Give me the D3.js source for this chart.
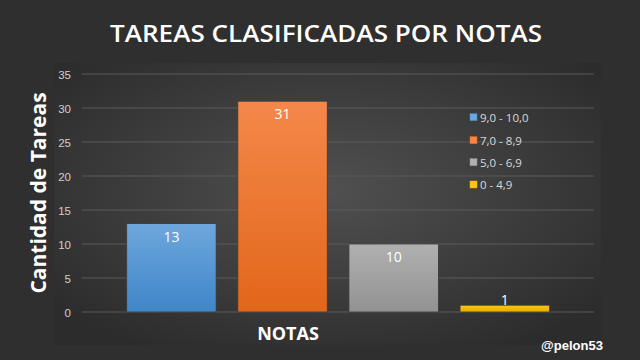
<!DOCTYPE html>
<html><head><meta charset="utf-8">
<script src="https://cdn.jsdelivr.net/npm/d3@7"></script>
<style>html,body{margin:0;padding:0;background:#2f2f2f;overflow:hidden}</style>
</head><body>
<svg id="c" width="640" height="360"></svg>
<script>
const title = "TAREAS CLASIFICADAS POR NOTAS";
const series = ["9,0 - 10,0", "7,0 - 8,9", "5,0 - 6,9", "0 - 4,9"];
const values = [13, 31, 10, 1];
const colorsTop = ["#6ea7dd", "#f4884a", "#b0b0b0", "#ffc61a"];
const colorsBot = ["#3f86c8", "#e2661a", "#929292", "#e8aa00"];
const yTicks = [0, 5, 10, 15, 20, 25, 30, 35];
const yTitle = "Cantidad de Tareas";
const xTitle = "NOTAS";
const watermark = "@pelon53";

const svg = d3.select("#c");
const defs = svg.append("defs");
const rg = defs.append("radialGradient").attr("id","panel").attr("cx","50%").attr("cy","45%").attr("r","65%");
rg.append("stop").attr("offset","0%").attr("stop-color","#505050");
rg.append("stop").attr("offset","100%").attr("stop-color","#2c2c2c");
series.forEach((s,i)=>{
  const lg = defs.append("linearGradient").attr("id","g"+i).attr("x1",0).attr("y1",0).attr("x2",0).attr("y2",1);
  lg.append("stop").attr("offset","0%").attr("stop-color",colorsTop[i]);
  lg.append("stop").attr("offset","100%").attr("stop-color",colorsBot[i]);
});

svg.append("rect").attr("width",640).attr("height",360).attr("fill","#2f2f2f");
svg.append("rect").attr("x",54).attr("y",63).attr("width",547).attr("height",282).attr("fill","url(#panel)");

svg.append("text").attr("x",326).attr("y",42).attr("text-anchor","middle")
  .attr("fill","#ffffff").attr("font-family","'Open Sans', sans-serif").attr("font-weight",600)
  .attr("font-size",24).attr("textLength",432).attr("lengthAdjust","spacingAndGlyphs").text(title);

const plotL = 82, plotR = 594;
const y = d3.scaleLinear().domain([0,35]).range([312, 74]);
const x = d3.scaleBand().domain(series).range([126.7, 549.5]).paddingInner(0.195).paddingOuter(0);

svg.append("g").selectAll("line").data(yTicks).join("line")
  .attr("x1",plotL).attr("x2",plotR).attr("y1",d=>y(d)).attr("y2",d=>y(d))
  .attr("stroke","#5a5a5a").attr("stroke-width",1);

const yAxis = d3.axisLeft(y).tickValues(yTicks).tickSize(0).tickPadding(0);
const ga = svg.append("g").attr("transform","translate(71,0)").call(yAxis);
ga.select(".domain").remove();
ga.selectAll("text").attr("fill","#d0d0d0").attr("font-family","'Liberation Sans', Arial, sans-serif").attr("font-size",11.5).attr("text-anchor","end").attr("dy","0.35em");

svg.append("g").selectAll("rect").data(values).join("rect")
  .attr("x",(d,i)=>x(series[i])).attr("width",x.bandwidth())
  .attr("y",d=>y(d)).attr("height",d=>y(0)-y(d))
  .attr("fill",(d,i)=>`url(#g${i})`).attr("stroke","#3a3a3a").attr("stroke-width",0.8);

svg.append("g").selectAll("text").data(values).join("text")
  .attr("x",(d,i)=>x(series[i])+x.bandwidth()/2)
  .attr("y",d=>(y(0)-y(d) > 20 ? y(d)+13 : y(d)-5))
  .attr("dy","0.35em").attr("text-anchor","middle").attr("fill","#ffffff")
  .attr("font-family","'Open Sans', sans-serif").attr("font-size",14).text(d=>d);

const lg = svg.append("g").selectAll("g").data(series).join("g")
  .attr("transform",(d,i)=>`translate(470,${[117.7,140.7,162.7,185][i]})`);
lg.append("rect").attr("x",0).attr("y",-4).attr("width",7).attr("height",7).attr("fill",(d,i)=>colorsTop[i]).attr("stroke",(d,i)=>colorsBot[i]).attr("stroke-width",0.5);
lg.append("text").attr("x",10).attr("y",0).attr("dy","0.35em").attr("fill","#d9d9d9")
  .attr("font-family","'Open Sans', sans-serif").attr("font-size",11.5).text(d=>d);

svg.append("text").attr("transform","translate(46,193) rotate(-90)").attr("text-anchor","middle")
  .attr("fill","#ffffff").attr("font-family","'Open Sans', sans-serif").attr("font-weight",700)
  .attr("font-size",21).text(yTitle);
svg.append("text").attr("x",288).attr("y",340).attr("text-anchor","middle")
  .attr("fill","#ffffff").attr("font-family","'Open Sans', sans-serif").attr("font-weight",700)
  .attr("font-size",18).text(xTitle);

svg.append("text").attr("x",572).attr("y",350).attr("text-anchor","middle")
  .attr("fill","#ffffff").attr("font-family","'Liberation Sans', Arial, sans-serif").attr("font-weight",700)
  .attr("font-size",13).text(watermark);
</script>
</body></html>
